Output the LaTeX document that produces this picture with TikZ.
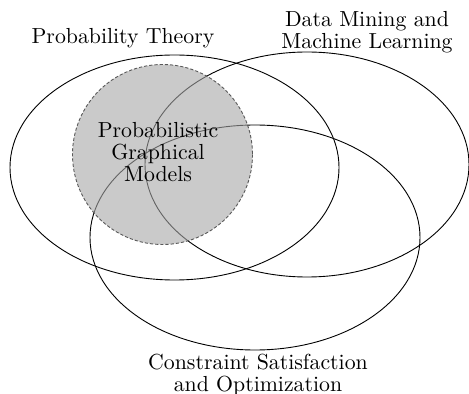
\documentclass[tikz,border=0pt]{standalone}
\usepackage{tikz}

\tikzset{
    field/.style={draw=black, line width=0.45pt},
    pgmdisc/.style={draw=black!65, dashed, dash pattern=on 1.6pt off 1pt, fill=black!35, fill opacity=0.6, line width=0.45pt},
    fieldlabel/.style={align=center, inner sep=0pt, font=\fontsize{10.9}{10.8}\selectfont}
}

\begin{document}
\begin{tikzpicture}[x=0.5pt, y=-0.5pt]
    \useasboundingbox (0,0) rectangle (469,394);
    % centres of the three fields and the shaded disc
    \coordinate (prob) at (174.5,167.5);
    \coordinate (data) at (307,164.5);
    \coordinate (csp) at (255,237.5);
    \coordinate (pgm) at (162.5,154.5);

    % the fields
    \draw[field] (prob) ellipse [x radius=164.5, y radius=112.5];
    \draw[field] (data) ellipse [x radius=162, y radius=112.5];
    \draw[field] (csp) ellipse [x radius=165, y radius=112.5];
    % the overlap of interest
    \path[pgmdisc] (pgm) circle [radius=90];

    % labels
    \node[fieldlabel] (probl) at (123,38) {Probability Theory};
    \node[fieldlabel] (datal) at (367,32) {Data Mining and\\Machine Learning};
    \node[fieldlabel] (cspl) at (258,375) {Constraint Satisfaction\\and Optimization\hspace{8pt}};
    \node[fieldlabel] (pgml) at (158,152) {Probabilistic\\Graphical\\Models};
\end{tikzpicture}
\end{document}
